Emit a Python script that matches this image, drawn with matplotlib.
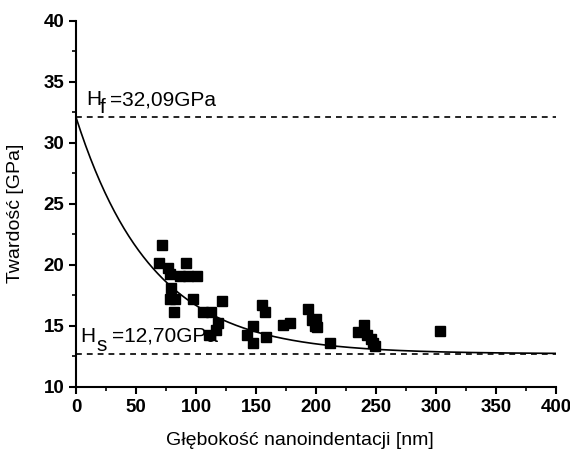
import numpy as np
import matplotlib
matplotlib.use("Agg")
import matplotlib.pyplot as plt

plt.rcParams['font.family'] = ['Liberation Sans', 'DejaVu Sans']

# measured points: depth [nm], hardness [GPa]
depth = [71.4, 69.4, 77.0, 78.3, 91.7, 86.7, 93.0, 101.0, 78.9, 78.3, 82.5, 97.2,
         121.4, 81.7, 106.0, 112.5, 118.6, 116.7, 111.0,
         154.7, 157.5, 147.2, 142.8, 147.8, 158.3, 172.8, 178.3, 193.6,
         196.4, 200.0, 201.0, 199.0, 211.7,
         240.0, 235.3, 242.2, 245.8, 247.8, 249.2, 303.3]
hardness = [21.6, 20.1, 19.7, 19.2, 20.1, 19.07, 19.07, 19.07, 18.1, 17.15, 17.15, 17.15,
            17.05, 16.15, 16.15, 16.1, 15.2, 14.65, 14.25,
            16.7, 16.1, 15.0, 14.2, 13.6, 14.1, 15.05, 15.2, 16.4,
            15.5, 15.55, 14.9, 15.0, 13.55,
            15.05, 14.5, 14.2, 13.95, 13.55, 13.3, 14.6]

# fit parameters
H_f = 32.09
H_s = 12.70
t0 = 63.0

fig = plt.figure(figsize=(5.7, 4.54), dpi=100, facecolor='w')
ax = fig.add_axes([0.1333, 0.1482, 0.8421, 0.8062])

xf = np.linspace(0, 400, 400)
ax.plot(xf, H_s + (H_f - H_s) * np.exp(-xf / t0), color='k', lw=1.2)
ax.axhline(H_f, color='k', ls=(0, (3.5, 3)), lw=1.2)
ax.axhline(H_s, color='k', ls=(0, (3.5, 3)), lw=1.2)
ax.plot(depth, hardness, 's', color='k', ms=6.5, mec='k')

# labels with full size, lowered subscripts
def label(x, y, sub, rest, dx_sub, dy_sub, dx_rest):
    ax.annotate('H', xy=(x, y), fontsize=15)
    ax.annotate(sub, xy=(x, y), xytext=(dx_sub, dy_sub), textcoords='offset points', fontsize=15)
    ax.annotate(rest, xy=(x, y), xytext=(dx_rest, 0), textcoords='offset points', fontsize=15)

label(8.3, 33.09, 'f', '=32,09GPa', 10, -5.8, 17.3)
label(3.9, 13.69, 's', '=12,70GPa', 11.5, -7, 22.3)

ax.set_xlim(0, 400)
ax.set_ylim(10, 40)
ax.set_xticks(np.arange(0, 401, 50))
ax.set_xticks(np.arange(0, 401, 25), minor=True)
ax.set_yticks(np.arange(10, 41, 5))
ax.set_yticks(np.arange(10, 41, 2.5), minor=True)
for s in ['top', 'right']:
    ax.spines[s].set_visible(False)
for s in ['left', 'bottom']:
    ax.spines[s].set_linewidth(1.5)
ax.tick_params(which='major', direction='out', length=5, width=1.5, labelsize=13.5)
ax.tick_params(which='minor', direction='out', length=3, width=1.2)
for lab in ax.get_xticklabels() + ax.get_yticklabels():
    lab.set_fontweight('bold')

ax.set_xlabel('Głębokość nanoindentacji [nm]', fontsize=14, labelpad=11)
ax.xaxis.set_label_coords(0.467, -0.125)
ax.set_ylabel('Twardość [GPa]', fontsize=14)
ax.yaxis.set_label_coords(-0.108, 0.475)

fig.savefig('out.png', dpi=100)
